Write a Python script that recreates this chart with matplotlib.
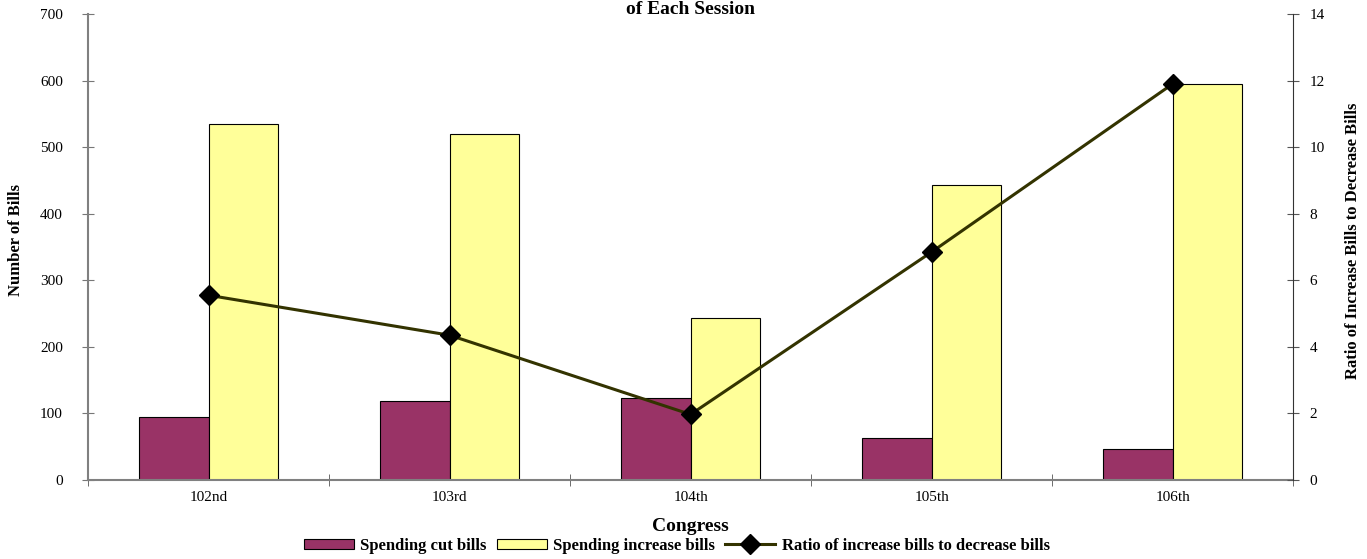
#!/usr/bin/env python3
"""
Spending cut vs spending increase bills per Congress, with ratio line
"""

import matplotlib.pyplot as plt
import numpy as np

congresses = ["102nd", "103rd", "104th", "105th", "106th"]
cut_bills = [95, 119, 123, 63, 47]
increase_bills = [535, 519, 243, 443, 595]
ratio = [5.55, 4.35, 1.97, 6.85, 11.9]

plt.rcParams["font.family"] = ["Liberation Serif", "DejaVu Serif"]

fig = plt.figure(figsize=(13.67, 5.59), dpi=100)
ax = fig.add_axes([0.0644, 0.1413, 0.8816, 0.8337])

x = np.arange(len(congresses))
w = 0.287
ax.bar(x - w / 2, cut_bills, w, color="#993366", edgecolor="black", linewidth=0.8,
       label="Spending cut bills")
ax.bar(x + w / 2, increase_bills, w, color="#FFFF99", edgecolor="black", linewidth=0.8,
       label="Spending increase bills")

ax.set_xlim(-0.5, len(congresses) - 0.5)
ax.set_ylim(0, 700)
ax.set_yticks(range(0, 701, 100))
ax.set_xticks(x)
ax.set_xticklabels(congresses, fontsize=11)
ax.set_xticks(np.arange(-0.5, len(congresses), 1.0), minor=True)
ax.tick_params(axis="x", which="major", length=0, pad=8)
ax.tick_params(axis="x", which="minor", length=8, direction="inout", color="#555555")
ax.tick_params(axis="y", length=8, direction="inout", color="#777777", labelsize=11, pad=14)

for side in ["top", "right"]:
    ax.spines[side].set_visible(False)
ax.spines["left"].set_color("#808080")
ax.spines["left"].set_linewidth(1.5)
ax.spines["bottom"].set_color("#808080")
ax.spines["bottom"].set_linewidth(1.5)

ax.set_xlabel("Congress", fontsize=14, fontweight="bold", labelpad=10)

ax2 = ax.twinx()
ax2.plot(x, ratio, color="#333300", linewidth=2.2, marker="D", markersize=10,
         markerfacecolor="black", markeredgecolor="black",
         label="Ratio of increase bills to decrease bills")
ax2.set_ylim(0, 14)
ax2.set_yticks(range(0, 15, 2))
ax2.tick_params(axis="y", length=8, direction="inout", color="#555555", labelsize=11, pad=8)
for side in ["top", "left", "bottom"]:
    ax2.spines[side].set_visible(False)
ax2.spines["right"].set_color("#333333")

fig.text(0.012, 0.57, "Number of Bills", rotation=90, ha="center", va="center",
         fontsize=12, fontweight="bold")
fig.text(0.99, 0.57, "Ratio of Increase Bills to Decrease Bills", rotation=90,
         ha="center", va="center", fontsize=12, fontweight="bold")

fig.text(0.505, 0.998, "of Each Session", ha="center", va="top",
         fontsize=14, fontweight="bold")

h1, l1 = ax.get_legend_handles_labels()
h2, l2 = ax2.get_legend_handles_labels()
fig.legend(h1 + h2, l1 + l2, loc="lower center", bbox_to_anchor=(0.495, -0.012),
           ncol=3, frameon=False, prop={"weight": "bold", "size": 12},
           handlelength=3, handleheight=0.6, handletextpad=0.4, columnspacing=0.6,
           borderpad=0.2)

fig.savefig("out.png", dpi=100)
